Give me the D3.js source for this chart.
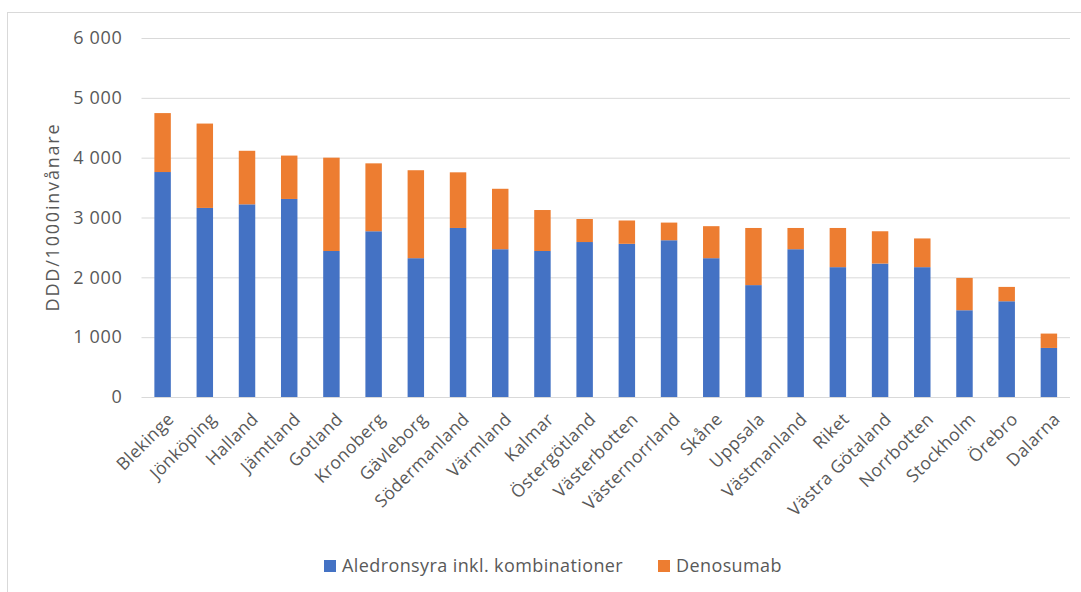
<!DOCTYPE html>
<html>
<head>
<meta charset="utf-8">
<script src="https://cdn.jsdelivr.net/npm/d3@7"></script>
<style>
  html, body { margin: 0; padding: 0; background: #fff; }
  svg { display: block; font-family: "Open Sans", sans-serif; }
</style>
</head>
<body>
<svg id="chart" width="1081" height="592"></svg>
<script>
// Regions, ordered by total use
const regions = ["Blekinge", "Jönköping", "Halland", "Jämtland", "Gotland", "Kronoberg",
  "Gävleborg", "Södermanland", "Värmland", "Kalmar", "Östergötland", "Västerbotten",
  "Västernorrland", "Skåne", "Uppsala", "Västmanland", "Riket", "Västra Götaland",
  "Norrbotten", "Stockholm", "Örebro", "Dalarna"];

// DDD per 1000 inhabitants
const aledronsyra = [3760, 3160, 3220, 3310, 2440, 2770, 2320, 2825, 2470, 2440, 2590, 2560,
  2620, 2320, 1870, 2470, 2170, 2230, 2170, 1450, 1600, 820];
const denosumab = [985, 1410, 895, 725, 1560, 1135, 1470, 930, 1010, 685, 385, 390,
  295, 535, 955, 355, 655, 540, 480, 540, 240, 240];

const seriesNames = ["Aledronsyra inkl. kombinationer", "Denosumab"];
const seriesColors = ["#4472C4", "#ED7D31"];
const yTicks = [0, 1000, 2000, 3000, 4000, 5000, 6000];

const svg = d3.select("#chart");
const W = 1081, H = 592;
const margin = { left: 141.5, right: 11, top: 38, bottom: 195 };
const plotW = W - margin.left - margin.right;
const plotH = H - margin.top - margin.bottom;
const textColor = "#595959";

// outer chart border
svg.append("rect")
  .attr("x", 7.5).attr("y", 12.5)
  .attr("width", W).attr("height", H)
  .attr("fill", "#fff").attr("stroke", "#d9d9d9").attr("stroke-width", 1);

const g = svg.append("g").attr("transform", `translate(${margin.left},${margin.top})`);

const x = d3.scaleBand().domain(regions).range([0, plotW]).paddingInner(0.61).paddingOuter(0.305);
const y = d3.scaleLinear().domain([0, 6000]).range([plotH, 0]);

const locale = d3.formatLocale({ decimal: ",", thousands: " ", grouping: [3], currency: ["", ""] });
const fmt = locale.format(",d");

// y axis with gridlines
const yAxis = g.append("g")
  .call(d3.axisLeft(y).tickValues(yTicks).tickSize(-plotW).tickPadding(19).tickFormat(fmt));
yAxis.select(".domain").remove();
yAxis.selectAll(".tick line").attr("stroke", "#d9d9d9").attr("stroke-width", 1);
yAxis.selectAll(".tick text")
  .attr("fill", textColor).attr("font-size", 18).attr("letter-spacing", 0.7)
  .attr("font-family", "Open Sans, sans-serif");

// stacked bars
const table = regions.map((r, i) => ({ region: r, a: aledronsyra[i], d: denosumab[i] }));
const stacked = d3.stack().keys(["a", "d"])(table);

g.selectAll("g.series")
  .data(stacked)
  .join("g")
  .attr("class", "series")
  .attr("fill", (s, i) => seriesColors[i])
  .selectAll("rect")
  .data(s => s)
  .join("rect")
  .attr("x", d => x(d.data.region))
  .attr("width", x.bandwidth())
  .attr("y", d => y(d[1]))
  .attr("height", d => y(d[0]) - y(d[1]));

// rotated category labels
const xAxis = g.append("g").attr("transform", `translate(0,${plotH})`);
xAxis.selectAll("text")
  .data(regions)
  .join("text")
  .attr("transform", r => `translate(${x(r) + x.bandwidth() / 2 + 8},${19}) rotate(-45)`)
  .attr("text-anchor", "end")
  .attr("dy", "0.35em")
  .attr("fill", textColor)
  .attr("font-size", 17.5)
  .attr("letter-spacing", 0.4)
  .text(r => r);

// y axis title
svg.append("text")
  .attr("transform", `translate(59,${217}) rotate(-90)`)
  .attr("text-anchor", "middle")
  .attr("fill", textColor)
  .attr("font-size", 18)
  .attr("letter-spacing", 1.8)
  .text("DDD/1000invånare");

// legend
const legendItems = [{ x: 324 }, { x: 658 }];
const legend = svg.append("g");
seriesNames.forEach((name, i) => {
  const lg = legend.append("g").attr("transform", `translate(${legendItems[i].x},560)`);
  lg.append("rect").attr("width", 12).attr("height", 12).attr("fill", seriesColors[i]);
  lg.append("text").attr("x", 18).attr("y", 6).attr("dy", "0.35em")
    .attr("fill", textColor).attr("font-size", 18).attr("letter-spacing", 0.4).text(name);
});
</script>
</body>
</html>
